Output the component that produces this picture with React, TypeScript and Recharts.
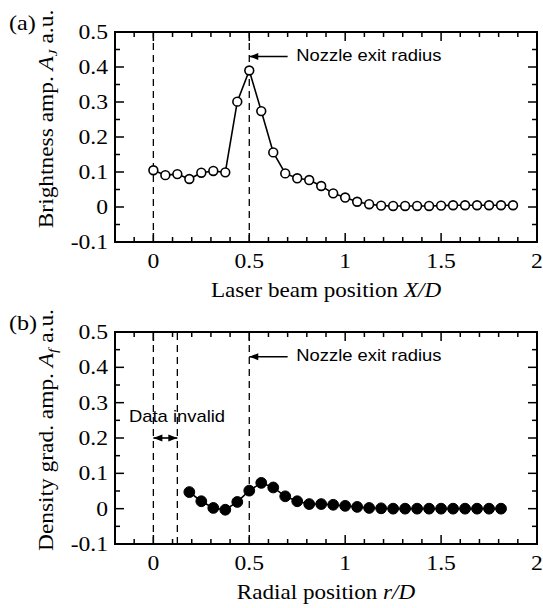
import { LineChart, Line, XAxis, YAxis, ReferenceLine, ReferenceDot, Label } from "recharts";

const serif = '"Liberation Serif", "Times New Roman", Times, serif';
const sans = '"Liberation Sans", Arial, Helvetica, sans-serif';

// axis ticks (majors get labels, the rest are short inner ticks)
const xMajor = [0, 0.5, 1, 1.5, 2];
const xTicks = [-0.1, 0, 0.1, 0.2, 0.3, 0.4, 0.5, 0.6, 0.7, 0.8, 0.9, 1, 1.1, 1.2, 1.3, 1.4, 1.5, 1.6, 1.7, 1.8, 1.9, 2];
const yMajor = [-0.1, 0, 0.1, 0.2, 0.3, 0.4, 0.5];
const yTicks = [-0.1, -0.05, 0, 0.05, 0.1, 0.15, 0.2, 0.25, 0.3, 0.35, 0.4, 0.45, 0.5];

// (a) brightness amplitude vs laser beam position
const brightX = [
  0, 0.0625, 0.125, 0.1875, 0.25, 0.3125, 0.375, 0.4375, 0.5, 0.5625, 0.625, 0.6875, 0.75, 0.8125, 0.875, 0.9375,
  1, 1.0625, 1.125, 1.1875, 1.25, 1.3125, 1.375, 1.4375, 1.5, 1.5625, 1.625, 1.6875, 1.75, 1.8125, 1.875,
];
const brightY = [
  0.105, 0.091, 0.094, 0.08, 0.098, 0.103, 0.099, 0.301, 0.39, 0.274, 0.156, 0.096, 0.082, 0.077, 0.06, 0.039,
  0.027, 0.015, 0.008, 0.004, 0.003, 0.003, 0.003, 0.003, 0.004, 0.005, 0.005, 0.005, 0.005, 0.005, 0.005,
];

// (b) density gradient amplitude vs radial position
const gradX = [
  0.1875, 0.25, 0.3125, 0.375, 0.4375, 0.5, 0.5625, 0.625, 0.6875, 0.75, 0.8125, 0.875, 0.9375, 1, 1.0625,
  1.125, 1.1875, 1.25, 1.3125, 1.375, 1.4375, 1.5, 1.5625, 1.625, 1.6875, 1.75, 1.8125,
];
const gradY = [
  0.047, 0.021, 0.002, -0.003, 0.019, 0.051, 0.073, 0.06, 0.035, 0.021, 0.013, 0.013, 0.011, 0.008, 0.005,
  0.002, 0.001, 0, 0, 0, 0, 0, 0, 0, 0, 0, 0,
];

const topData = brightX.map((x, i) => ({ x, y: brightY[i] }));
const bottomData = gradX.map((x, i) => ({ x, y: gradY[i] }));

const X_MIN = -0.2;
const X_MAX = 2;
const Y_MIN = -0.1;
const Y_MAX = 0.5;

const W = 543;
const LEFT = 115;
const RIGHT = 6;
const PLOT_W = W - LEFT - RIGHT;
const OFF = 8; // default tickSize 6 + tickMargin 2
const TW = 1.5; // tick thickness

// bottom ticks: inner marks on bottom and top edges, plus the label
const bottomTick = (plotH: number) => (p: any) => {
  const { x, payload } = p;
  const y = p.y - OFF;
  const major = xMajor.includes(payload.value);
  const len = major ? 9 : 5;
  return (
    <g>
      <rect x={x - TW / 2} y={y - len} width={TW} height={len} fill="#000" />
      <rect x={x - TW / 2} y={y - plotH} width={TW} height={len} fill="#000" />
      {major && (
        <text transform={`translate(${x},${y + 26}) scale(1.18,1)`} textAnchor="middle" fontFamily={serif} fontSize={20} fill="#000">
          {payload.value}
        </text>
      )}
    </g>
  );
};

// left ticks: inner marks on left and right edges, plus the label
function LeftTick(p: any) {
  const { y, payload } = p;
  const x = p.x + OFF;
  const major = yMajor.includes(payload.value);
  const len = major ? 9 : 5;
  return (
    <g>
      <rect x={x} y={y - TW / 2} width={len} height={TW} fill="#000" />
      <rect x={x + PLOT_W - len} y={y - TW / 2} width={len} height={TW} fill="#000" />
      {major && (
        <text transform={`translate(${x - 7},${y + 7}) scale(1.18,1)`} textAnchor="end" fontFamily={serif} fontSize={20} fill="#000">
          {payload.value}
        </text>
      )}
    </g>
  );
}

const arrowHead = (dir: number) => (p: any) => (
  <path d={`M${p.cx},${p.cy} l${dir * 9},-3.5 l0,7 z`} fill="#000" />
);

const note = (text: string) => (p: any) => (
  <text transform={`translate(${p.cx},${p.cy}) scale(1.15,1)`} dy="0.36em" fontFamily={sans} fontSize={16} fill="#000">
    {text}
  </text>
);

function Panel({ data, filled, panel, yName, sub, xName, xItalic, shiftY, top, height, xHeight, invalid }: any) {
  const plotH = height - top - xHeight;
  return (
    <LineChart width={W} height={height} data={data} margin={{ top, right: RIGHT, bottom: 0, left: 0 }}>
      <XAxis type="number" dataKey="x" domain={[X_MIN, X_MAX]} ticks={xTicks} interval={0}
        axisLine={false} tickLine={false} tick={bottomTick(plotH)} height={xHeight}>
        <Label content={(lp: any) => {
          const vb = lp.viewBox;
          const t = vb.y - plotH;
          return (
            <g>
              {/* plot frame */}
              <rect x={vb.x - 1} y={vb.y - 1} width={vb.width + 2} height={2} fill="#000" />
              <rect x={vb.x - 1} y={t - 1} width={vb.width + 2} height={2} fill="#000" />
              <rect x={vb.x - 1} y={t - 1} width={2} height={plotH + 2} fill="#000" />
              <rect x={vb.x + vb.width - 1} y={t - 1} width={2} height={plotH + 2} fill="#000" />
              <text transform={`translate(${vb.x + vb.width / 2},${vb.y + 55}) scale(1.1,1)`} textAnchor="middle" fontFamily={serif} fontSize={21} fill="#000">
                {xName}<tspan fontStyle="italic">{xItalic}</tspan>
              </text>
            </g>
          );
        }} />
      </XAxis>
      <YAxis type="number" domain={[Y_MIN, Y_MAX]} ticks={yTicks} interval={0}
        axisLine={false} tickLine={false} tick={LeftTick} width={LEFT}>
        <Label content={(lp: any) => {
          const vb = lp.viewBox;
          const cy = vb.y + vb.height / 2 + shiftY;
          return (
            <g>
              <text transform={`translate(53,${cy}) rotate(-90) scale(1.17,1)`} textAnchor="middle" fontFamily={serif} fontSize={20} fill="#000">
                {yName}<tspan fontStyle="italic">A</tspan>
                <tspan fontStyle="italic" fontSize={13} dy={4}>{sub}</tspan>
                <tspan dy={-4}>{"  a.u."}</tspan>
              </text>
              <text transform={`translate(9,${vb.y - 2}) scale(1.15,1)`} fontFamily={serif} fontSize={21} fill="#000">
                {panel}
              </text>
            </g>
          );
        }} />
      </YAxis>

      <ReferenceLine x={0} stroke="#000" strokeWidth={1.3} strokeDasharray="7 5" />
      {invalid && <ReferenceLine x={0.125} stroke="#000" strokeWidth={1.3} strokeDasharray="7 5" />}
      <ReferenceLine x={0.5} stroke="#000" strokeWidth={1.3} strokeDasharray="7 5" />

      <ReferenceLine segment={[{ x: 0.5, y: 0.43 }, { x: 0.7, y: 0.43 }]} stroke="#000" strokeWidth={1.6} />
      <ReferenceDot x={0.5} y={0.43} r={3} shape={arrowHead(1)} />
      <ReferenceDot x={0.745} y={0.433} r={3} shape={note("Nozzle exit radius")} />

      {invalid && <ReferenceLine segment={[{ x: 0, y: 0.2 }, { x: 0.125, y: 0.2 }]} stroke="#000" strokeWidth={1.6} />}
      {invalid && <ReferenceDot x={0} y={0.2} r={3} shape={arrowHead(1)} />}
      {invalid && <ReferenceDot x={0.125} y={0.2} r={3} shape={arrowHead(-1)} />}
      {invalid && <ReferenceDot x={-0.127} y={0.263} r={3} shape={note("Data invalid")} />}

      <Line type="linear" dataKey="y" stroke="#000" strokeWidth={1.6} isAnimationActive={false} activeDot={false}
        dot={filled ? { r: 5.4, fill: "#000", stroke: "#000", strokeWidth: 1 } : { r: 4.4, fill: "#fff", stroke: "#000", strokeWidth: 1.6 }} />
    </LineChart>
  );
}

export default function App() {
  return (
    <div style={{ position: "absolute", left: 0, top: 0, width: W, height: 608 }}>
      <Panel data={topData} filled={false} panel="(a)" yName="Brightness amp. " sub="J" xName="Laser beam position "
        xItalic="X/D" shiftY={-18} top={32} height={304} xHeight={62} invalid={false} />
      <Panel data={bottomData} filled panel="(b)" yName="Density grad. amp. " sub="f" xName="Radial position "
        xItalic="r/D" shiftY={-8} top={28} height={304} xHeight={64} invalid />
    </div>
  );
}
